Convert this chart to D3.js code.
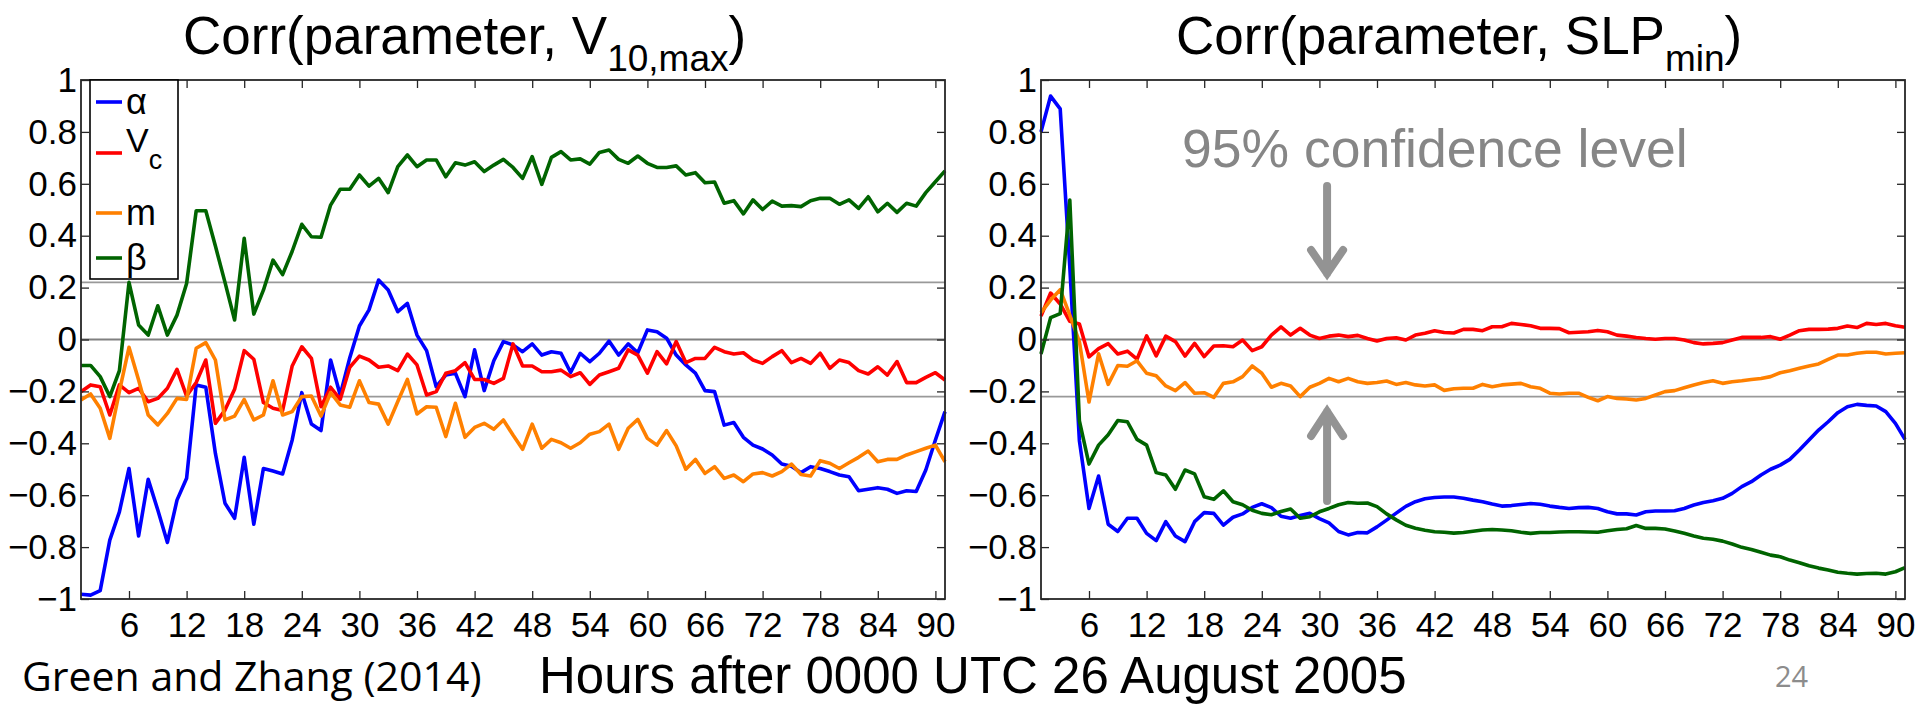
<!DOCTYPE html>
<html>
<head>
<meta charset="utf-8">
<script src="https://cdn.jsdelivr.net/npm/d3@7"></script>
<style>
  html, body { margin: 0; padding: 0; background: #fff; }
  svg { display: block; }
  text { font-family: "Liberation Sans", Arial, Helvetica, sans-serif; }
</style>
</head>
<body>
<svg id="chart" width="1917" height="704"></svg>
<script>
// Forecast hours after 0000 UTC 26 August 2005
const hours = [
  1, 2, 3, 4, 5, 6, 7, 8, 9, 10, 11, 12, 13, 14, 15, 16, 17, 18, 19, 20,
  21, 22, 23, 24, 25, 26, 27, 28, 29, 30, 31, 32, 33, 34, 35, 36, 37, 38, 39, 40,
  41, 42, 43, 44, 45, 46, 47, 48, 49, 50, 51, 52, 53, 54, 55, 56, 57, 58, 59, 60,
  61, 62, 63, 64, 65, 66, 67, 68, 69, 70, 71, 72, 73, 74, 75, 76, 77, 78, 79, 80,
  81, 82, 83, 84, 85, 86, 87, 88, 89, 90, 91
];
const xTicks = [6, 12, 18, 24, 30, 36, 42, 48, 54, 60, 66, 72, 78, 84, 90];
const yTicks = [-1, -0.8, -0.6, -0.4, -0.2, 0, 0.2, 0.4, 0.6, 0.8, 1];
const confLevel = 0.22;   // 95% confidence threshold for the correlation

// Corr(parameter, V10,max)
const vmaxAlpha = [
  -0.982, -0.985, -0.968, -0.773, -0.664, -0.497, -0.757, -0.539, -0.657, -0.782,
  -0.619, -0.535, -0.175, -0.184, -0.439, -0.631, -0.689, -0.454, -0.712, -0.497,
  -0.507, -0.518, -0.387, -0.205, -0.326, -0.351, -0.079, -0.214, -0.070, 0.052,
  0.114, 0.229, 0.191, 0.107, 0.139, 0.017, -0.043, -0.182, -0.137, -0.130,
  -0.220, -0.040, -0.197, -0.082, -0.008, -0.021, -0.047, -0.017, -0.060, -0.047,
  -0.053, -0.127, -0.053, -0.085, -0.053, -0.006, -0.060, -0.017, -0.051, 0.037,
  0.030, 0.005, -0.060, -0.098, -0.130, -0.197, -0.201, -0.330, -0.320, -0.377,
  -0.407, -0.422, -0.445, -0.480, -0.488, -0.513, -0.490, -0.497, -0.509, -0.522,
  -0.529, -0.583, -0.577, -0.571, -0.577, -0.593, -0.583, -0.586, -0.503, -0.387, -0.278
];
const vmaxVc = [
  -0.201, -0.175, -0.182, -0.291, -0.175, -0.205, -0.188, -0.240, -0.227, -0.188,
  -0.115, -0.218, -0.166, -0.079, -0.323, -0.272, -0.192, -0.043, -0.076, -0.243,
  -0.265, -0.274, -0.102, -0.028, -0.073, -0.259, -0.184, -0.231, -0.107, -0.064,
  -0.079, -0.107, -0.102, -0.120, -0.056, -0.098, -0.214, -0.201, -0.130, -0.120,
  -0.089, -0.154, -0.154, -0.169, -0.150, -0.017, -0.102, -0.102, -0.124, -0.124,
  -0.118, -0.143, -0.128, -0.173, -0.137, -0.124, -0.111, -0.040, -0.060, -0.130,
  -0.047, -0.094, -0.008, -0.089, -0.073, -0.073, -0.030, -0.047, -0.056, -0.051,
  -0.079, -0.092, -0.066, -0.043, -0.089, -0.073, -0.092, -0.053, -0.111, -0.079,
  -0.089, -0.120, -0.133, -0.105, -0.137, -0.085, -0.166, -0.166, -0.146, -0.128, -0.156
];
const vmaxM = [
  -0.233, -0.210, -0.265, -0.381, -0.200, -0.030, -0.156, -0.291, -0.329, -0.285,
  -0.227, -0.231, -0.034, -0.012, -0.079, -0.310, -0.295, -0.231, -0.310, -0.291,
  -0.159, -0.291, -0.278, -0.220, -0.218, -0.295, -0.205, -0.252, -0.261, -0.159,
  -0.243, -0.249, -0.326, -0.239, -0.154, -0.287, -0.259, -0.261, -0.374, -0.246,
  -0.377, -0.339, -0.323, -0.346, -0.310, -0.368, -0.423, -0.326, -0.419, -0.385,
  -0.398, -0.419, -0.398, -0.365, -0.355, -0.326, -0.423, -0.342, -0.308, -0.381,
  -0.407, -0.351, -0.410, -0.500, -0.462, -0.516, -0.490, -0.535, -0.522, -0.548,
  -0.518, -0.513, -0.526, -0.509, -0.480, -0.520, -0.526, -0.467, -0.477, -0.497,
  -0.475, -0.454, -0.430, -0.471, -0.462, -0.462, -0.445, -0.432, -0.419, -0.407, -0.471
];
const vmaxBeta = [
  -0.100, -0.100, -0.143, -0.220, -0.120, 0.220, 0.056, 0.017, 0.130, 0.017,
  0.094, 0.216, 0.496, 0.496, 0.360, 0.220, 0.075, 0.390, 0.098, 0.190,
  0.306, 0.250, 0.340, 0.444, 0.396, 0.394, 0.518, 0.579, 0.579, 0.634,
  0.591, 0.621, 0.566, 0.666, 0.711, 0.666, 0.692, 0.692, 0.627, 0.681,
  0.672, 0.685, 0.647, 0.672, 0.694, 0.663, 0.621, 0.705, 0.598, 0.702,
  0.724, 0.692, 0.696, 0.676, 0.721, 0.730, 0.694, 0.679, 0.707, 0.679,
  0.663, 0.663, 0.669, 0.634, 0.643, 0.604, 0.607, 0.525, 0.535, 0.484,
  0.538, 0.501, 0.533, 0.514, 0.516, 0.512, 0.535, 0.544, 0.544, 0.521,
  0.538, 0.505, 0.550, 0.492, 0.525, 0.490, 0.525, 0.514, 0.566, 0.608, 0.650
];

// Corr(parameter, SLPmin)
const slpAlpha = [
  0.800, 0.938, 0.889, 0.280, -0.390, -0.651, -0.526, -0.712, -0.740, -0.689,
  -0.689, -0.747, -0.775, -0.702, -0.757, -0.779, -0.702, -0.667, -0.670, -0.715,
  -0.685, -0.672, -0.647, -0.633, -0.648, -0.681, -0.689, -0.678, -0.670, -0.690,
  -0.707, -0.740, -0.753, -0.744, -0.745, -0.722, -0.696, -0.669, -0.643, -0.625,
  -0.614, -0.609, -0.607, -0.607, -0.612, -0.619, -0.625, -0.634, -0.642, -0.640,
  -0.636, -0.632, -0.635, -0.642, -0.647, -0.651, -0.648, -0.647, -0.651, -0.664,
  -0.672, -0.672, -0.676, -0.664, -0.661, -0.661, -0.660, -0.651, -0.638, -0.628,
  -0.621, -0.612, -0.593, -0.567, -0.548, -0.522, -0.500, -0.484, -0.462, -0.426,
  -0.387, -0.349, -0.317, -0.282, -0.259, -0.250, -0.254, -0.256, -0.278, -0.323, -0.385
];
const slpVc = [
  0.090, 0.179, 0.137, 0.070, 0.060, -0.067, -0.035, -0.016, -0.056, -0.045,
  -0.076, 0.014, -0.063, 0.013, -0.008, -0.064, -0.015, -0.066, -0.025, -0.024,
  -0.028, -0.002, -0.043, -0.028, 0.017, 0.049, 0.017, 0.043, 0.017, 0.004,
  0.013, 0.017, 0.011, 0.016, 0.004, -0.006, 0.004, 0.007, -0.002, 0.017,
  0.024, 0.034, 0.027, 0.025, 0.039, 0.039, 0.034, 0.049, 0.049, 0.062,
  0.058, 0.053, 0.043, 0.043, 0.042, 0.026, 0.028, 0.030, 0.035, 0.030,
  0.017, 0.013, 0.008, 0.004, 0.001, 0.004, 0.004, -0.002, -0.012, -0.017,
  -0.015, -0.012, -0.002, 0.008, 0.008, 0.008, 0.011, 0.001, 0.017, 0.034,
  0.039, 0.039, 0.040, 0.043, 0.052, 0.046, 0.062, 0.058, 0.062, 0.053, 0.047
];
const slpM = [
  0.103, 0.152, 0.192, 0.094, -0.009, -0.241, -0.055, -0.173, -0.100, -0.103,
  -0.082, -0.130, -0.140, -0.179, -0.197, -0.166, -0.207, -0.205, -0.223, -0.169,
  -0.163, -0.143, -0.102, -0.130, -0.184, -0.169, -0.179, -0.220, -0.184, -0.169,
  -0.150, -0.163, -0.150, -0.163, -0.169, -0.166, -0.160, -0.173, -0.166, -0.175,
  -0.179, -0.175, -0.196, -0.190, -0.188, -0.188, -0.173, -0.182, -0.175, -0.172,
  -0.169, -0.182, -0.188, -0.207, -0.210, -0.207, -0.207, -0.223, -0.236, -0.220,
  -0.227, -0.229, -0.233, -0.227, -0.214, -0.201, -0.197, -0.186, -0.175, -0.166,
  -0.159, -0.169, -0.163, -0.159, -0.154, -0.150, -0.143, -0.128, -0.120, -0.111,
  -0.102, -0.094, -0.077, -0.060, -0.060, -0.053, -0.049, -0.049, -0.056, -0.053, -0.051
];
const slpBeta = [
  -0.056, 0.084, 0.100, 0.537, -0.314, -0.480, -0.407, -0.367, -0.312, -0.317,
  -0.385, -0.407, -0.513, -0.522, -0.577, -0.503, -0.518, -0.606, -0.616, -0.583,
  -0.625, -0.637, -0.658, -0.670, -0.675, -0.663, -0.653, -0.689, -0.683, -0.664,
  -0.651, -0.637, -0.628, -0.631, -0.630, -0.644, -0.672, -0.695, -0.716, -0.727,
  -0.735, -0.741, -0.743, -0.746, -0.744, -0.739, -0.734, -0.732, -0.734, -0.737,
  -0.743, -0.747, -0.744, -0.744, -0.742, -0.741, -0.741, -0.742, -0.743, -0.737,
  -0.732, -0.729, -0.717, -0.728, -0.728, -0.730, -0.738, -0.747, -0.757, -0.766,
  -0.770, -0.777, -0.788, -0.801, -0.809, -0.820, -0.831, -0.837, -0.850, -0.860,
  -0.872, -0.881, -0.888, -0.897, -0.901, -0.904, -0.902, -0.901, -0.904, -0.895, -0.879
];

const seriesColors = { alpha: "#0000ff", vc: "#ff0000", m: "#ff8000", beta: "#006400" };

const svg = d3.select("#chart");
const plotTop = 80, plotBottom = 599;

function drawPanel(x0, x1, series) {
  const x = d3.scaleLinear().domain([1, 91]).range([x0, x1]);
  const y = d3.scaleLinear().domain([-1, 1]).range([plotBottom, plotTop]);
  const g = svg.append("g");

  // reference lines: zero and the +/- confidence bounds
  g.append("line")
    .attr("x1", x0).attr("x2", x1).attr("y1", y(0)).attr("y2", y(0))
    .attr("stroke", "#808080").attr("stroke-width", 2);
  [confLevel, -confLevel].forEach(c => {
    g.append("line")
      .attr("x1", x0).attr("x2", x1).attr("y1", y(c)).attr("y2", y(c))
      .attr("stroke", "#999999").attr("stroke-width", 1.6);
  });

  const line = d3.line().x((d, i) => x(hours[i])).y(d => y(d));
  series.forEach(s => {
    g.append("path").datum(s.values)
      .attr("d", line)
      .attr("fill", "none")
      .attr("stroke", s.color)
      .attr("stroke-width", 3.6)
      .attr("stroke-linejoin", "round");
  });

  const axisStyle = sel => {
    sel.select(".domain").remove();
    sel.selectAll(".tick line").attr("stroke", "#262626").attr("stroke-width", 1.3);
    sel.selectAll(".tick text").attr("fill", "#000").attr("font-size", 35)
      .attr("font-family", "'Liberation Sans', Arial, Helvetica, sans-serif");
  };

  g.append("g").attr("transform", `translate(0,${plotBottom})`)
    .call(d3.axisBottom(x).tickValues(xTicks).tickSizeInner(-8).tickSizeOuter(0).tickPadding(13))
    .call(axisStyle);
  g.append("g").attr("transform", `translate(0,${plotTop})`)
    .call(d3.axisTop(x).tickValues(xTicks).tickSizeInner(-8).tickSizeOuter(0).tickFormat(""))
    .call(axisStyle);
  g.append("g").attr("transform", `translate(${x0},0)`)
    .call(d3.axisLeft(y).tickValues(yTicks).tickSizeInner(-8).tickSizeOuter(0).tickPadding(4)
      .tickFormat(d3.format("")))
    .call(axisStyle);
  g.append("g").attr("transform", `translate(${x1},0)`)
    .call(d3.axisRight(y).tickValues(yTicks).tickSizeInner(-8).tickSizeOuter(0).tickFormat(""))
    .call(axisStyle);

  // axes box
  g.append("rect")
    .attr("x", x0).attr("y", plotTop).attr("width", x1 - x0).attr("height", plotBottom - plotTop)
    .attr("fill", "none").attr("stroke", "#262626").attr("stroke-width", 1.8);

  return { g, x, y };
}

const leftPanel = drawPanel(81, 945, [
  { values: vmaxAlpha, color: seriesColors.alpha },
  { values: vmaxVc, color: seriesColors.vc },
  { values: vmaxM, color: seriesColors.m },
  { values: vmaxBeta, color: seriesColors.beta }
]);
const rightPanel = drawPanel(1041, 1905, [
  { values: slpAlpha, color: seriesColors.alpha },
  { values: slpVc, color: seriesColors.vc },
  { values: slpM, color: seriesColors.m },
  { values: slpBeta, color: seriesColors.beta }
]);

// Titles
function title(xStart, main, sub) {
  const t = svg.append("text").attr("x", xStart).attr("y", 54)
    .attr("font-size", 53).attr("fill", "#000");
  t.append("tspan").text(main);
  t.append("tspan").attr("font-size", 37).attr("dy", 17).text(sub);
  t.append("tspan").attr("dy", -17).text(")");
}
title(183, "Corr(parameter, V", "10,max");
title(1176, "Corr(parameter, SLP", "min");

// Legend in the left panel
const legendItems = [
  { key: "alpha", label: "α", sub: null, cy: 102 },
  { key: "vc", label: "V", sub: "c", cy: 153 },
  { key: "m", label: "m", sub: null, cy: 213 },
  { key: "beta", label: "β", sub: null, cy: 258 }
];
const lg = svg.append("g");
lg.append("rect").attr("x", 90).attr("y", 80).attr("width", 88).attr("height", 199)
  .attr("fill", "#fff").attr("stroke", "#000").attr("stroke-width", 1.6);
legendItems.forEach(it => {
  lg.append("line").attr("x1", 96).attr("x2", 122).attr("y1", it.cy).attr("y2", it.cy)
    .attr("stroke", seriesColors[it.key]).attr("stroke-width", 3.6);
  if (it.sub) {
    const t = lg.append("text").attr("x", 126).attr("y", it.cy - 1).attr("font-size", 34);
    t.append("tspan").text(it.label);
    t.append("tspan").attr("font-size", 27).attr("dy", 17).text(it.sub);
  } else {
    lg.append("text").attr("x", 126).attr("y", it.cy).attr("dy", "0.33em")
      .attr("font-size", 36).text(it.label);
  }
});

// 95% confidence annotation with arrows pointing at the bounds
const ry = rightPanel.y, rx = rightPanel.x;
svg.append("text").attr("x", 1182).attr("y", 167).attr("font-size", 53.5)
  .attr("fill", "#868686").text("95% confidence level");
const arrowX = rx(30.8);
const arrowColor = "#939393";
svg.append("path")
  .attr("d", `M${arrowX},186 L${arrowX},${ry(confLevel) - 9} M${arrowX - 16},250 L${arrowX},${ry(confLevel) - 9} L${arrowX + 16},250`)
  .attr("fill", "none").attr("stroke", arrowColor).attr("stroke-width", 8)
  .attr("stroke-linejoin", "miter").attr("stroke-linecap", "round");
svg.append("path")
  .attr("d", `M${arrowX},501 L${arrowX},${ry(-confLevel) + 15} M${arrowX - 16},436 L${arrowX},${ry(-confLevel) + 15} L${arrowX + 16},436`)
  .attr("fill", "none").attr("stroke", arrowColor).attr("stroke-width", 8)
  .attr("stroke-linejoin", "miter").attr("stroke-linecap", "round");

// Axis label and footer
svg.append("text").attr("x", 539).attr("y", 693).attr("font-size", 51).attr("fill", "#000")
  .text("Hours after 0000 UTC 26 August 2005");
svg.append("text").attr("x", 22).attr("y", 691).attr("font-size", 41).attr("fill", "#000")
  .style("font-family", "'Open Sans', Lato, sans-serif")
  .text("Green and Zhang (2014)");
svg.append("text").attr("x", 1775).attr("y", 687).attr("font-size", 29).attr("fill", "#8c8c8c")
  .style("font-family", "'Open Sans', Lato, sans-serif")
  .text("24");
</script>
</body>
</html>
